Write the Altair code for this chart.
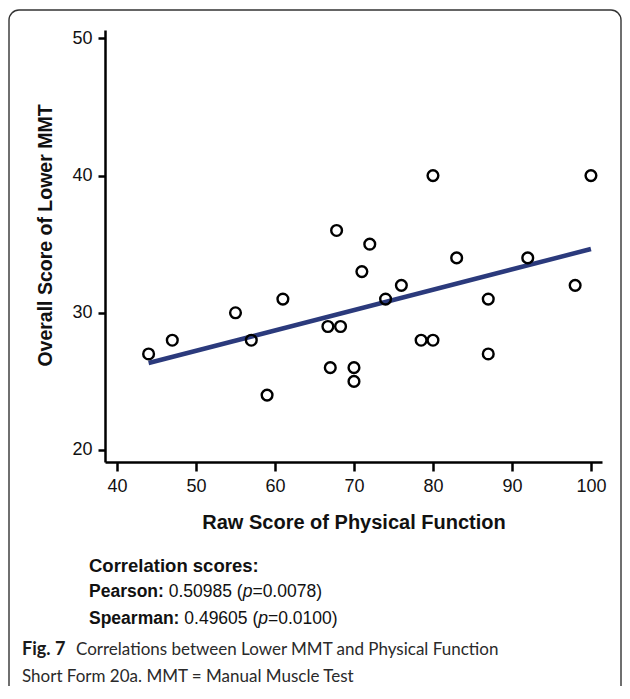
import altair as alt
import pandas as pd

# ---- data ----
raw_score = [44, 47, 55, 57, 59, 61, 66.7, 68.3, 67, 67.8, 70, 70, 71, 72, 74,
             76, 78.5, 80, 80, 83, 87, 87, 92, 98, 100]
mmt_score = [27, 28, 30, 28, 24, 31, 29, 29, 26, 36, 26, 25, 33, 35, 31,
             32, 28, 28, 40, 34, 31, 27, 34, 32, 40]
x_ticks = [40, 50, 60, 70, 80, 90, 100]
y_ticks = [20, 30, 40, 50]
x_title = "Raw Score of Physical Function"
y_title = "Overall Score of Lower MMT"
stats_head = "Correlation scores:"
stats_rows = [("Pearson:", "0.50985", "0.0078"), ("Spearman:", "0.49605", "0.0100")]
caption_bold = "Fig. 7"
caption_lines = ["Correlations between Lower MMT and Physical Function",
                 "Short Form 20a. MMT = Manual Muscle Test"]

df = pd.DataFrame({"x": raw_score, "y": mmt_score})

W, H = 497, 432
FONT = "Liberation Sans"
CAP_FONT = "Lato"
HS = 18.5  # statistics heading size
TS = 17.5  # statistics rows size
CS = 17    # caption text size

# Arial / Liberation Sans advance widths (1/1000 em)
REG = {" ": 278, "(": 333, ")": 333, ".": 278, "=": 584, "p": 556}
REG.update({d: 556 for d in "0123456789"})
BOLD = {"P": 667, "e": 556, "a": 556, "r": 389, "s": 556, "o": 611, "n": 611,
        ":": 333, "S": 667, "m": 889, "p": 611, " ": 278}


def width(s, table, size):
    return sum(table.get(c, 556) for c in s) * size / 1000.0


blank = alt.Data(values=[{}])


def txt(s, x, y, size=TS, weight="normal", style="normal", font=FONT, color="#111111"):
    return alt.Chart(blank).mark_text(
        text=s, align="left", baseline="middle", fontSize=size, font=font,
        fontWeight=weight, fontStyle=style, color=color
    ).encode(x=alt.value(x), y=alt.value(y))


xs = alt.Scale(domain=[38.48, 101.4], nice=False, zero=False)
ys = alt.Scale(domain=[19.125, 50.61], nice=False, zero=False)

points = alt.Chart(df).mark_point(
    shape="circle", filled=False, size=115, strokeWidth=2.4, color="#000000", opacity=1
).encode(
    x=alt.X("x:Q", scale=xs, axis=alt.Axis(
        values=x_ticks, title=x_title, grid=False, tickSize=9, tickWidth=2.5,
        domainWidth=2.5, domainColor="#000", tickColor="#000",
        labelFont=FONT, labelFontSize=18, labelColor="#111", labelPadding=6,
        titleFont=FONT, titleFontSize=20, titleFontWeight="bold", titleColor="#111",
        titleY=60, titleBaseline="middle")),
    y=alt.Y("y:Q", scale=ys, axis=alt.Axis(
        values=y_ticks, title=y_title, grid=False, tickSize=7, tickWidth=2.5,
        domainWidth=2.5, domainColor="#000", tickColor="#000",
        labelFont=FONT, labelFontSize=18, labelColor="#111", labelPadding=6,
        titleFont=FONT, titleFontSize=19.5, titleFontWeight="bold", titleColor="#111",
        titleX=-60, titleY=205, titleBaseline="middle")),
)

fit = alt.Chart(df).transform_regression("x", "y").mark_line(
    color="#2b3a7c", strokeWidth=4.5
).encode(x=alt.X("x:Q", scale=xs), y=alt.Y("y:Q", scale=ys))

border = alt.Chart(blank).mark_rect(
    fillOpacity=0, stroke="#333333", strokeWidth=1.4, cornerRadius=10
).encode(x=alt.value(-96), x2=alt.value(516), y=alt.value(-20), y2=alt.value(720))

layers = [border, fit, points]

# correlation text
sx = -16
layers.append(txt(stats_head, sx, 536, size=HS, weight="bold"))
for i, (name, val, p) in enumerate(stats_rows):
    yy = 562 + 27 * i
    layers.append(txt(name, sx, yy, weight="bold"))
    x1 = sx + width(name + " ", BOLD, TS)
    seg = val + " ("
    layers.append(txt(seg, x1, yy))
    x2 = x1 + width(seg, REG, TS)
    layers.append(txt("p", x2, yy, style="italic"))
    x3 = x2 + width("p", REG, TS)
    layers.append(txt("=" + p + ")", x3, yy))

# caption
cx = -83
layers.append(txt(caption_bold, cx, 620, size=CS + 1, weight="bold", font=CAP_FONT, color="#1a1a1a"))
layers.append(txt(caption_lines[0], cx + 54, 620, size=CS, weight="normal", font=CAP_FONT, color="#2a2a2a"))
layers.append(txt(caption_lines[1], cx, 647, size=CS, weight="normal", font=CAP_FONT, color="#2a2a2a"))

chart = alt.layer(*layers).properties(
    width=W, height=H,
    autosize=alt.AutoSizeParams(type="none"),
    padding={"left": 97, "top": 22, "right": 20, "bottom": 224},
).configure_view(stroke=None)

chart.save("out.html", embed_options={"renderer": "svg", "actions": False})
